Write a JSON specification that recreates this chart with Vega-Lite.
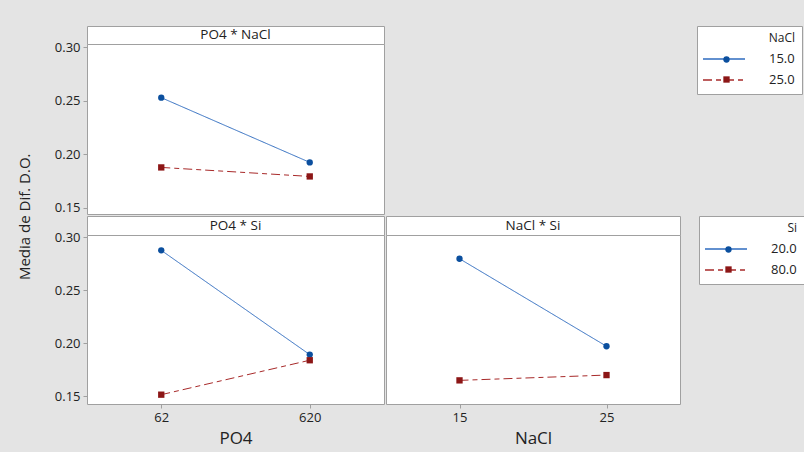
{
  "$schema": "https://vega.github.io/schema/vega-lite/v6.json",
  "background": "#e4e4e4",
  "padding": {"left": 17, "top": 25, "right": 5, "bottom": 5},
  "datasets": {
    "means": [
      {"panel": "PO4 * NaCl", "x_level": "62", "trace": "15.0", "mean": 0.2528},
      {"panel": "PO4 * NaCl", "x_level": "620", "trace": "15.0", "mean": 0.1925},
      {"panel": "PO4 * NaCl", "x_level": "62", "trace": "25.0", "mean": 0.1878},
      {"panel": "PO4 * NaCl", "x_level": "620", "trace": "25.0", "mean": 0.1794},
      {"panel": "PO4 * Si", "x_level": "62", "trace": "20.0", "mean": 0.2877},
      {"panel": "PO4 * Si", "x_level": "620", "trace": "20.0", "mean": 0.1893},
      {"panel": "PO4 * Si", "x_level": "62", "trace": "80.0", "mean": 0.1515},
      {"panel": "PO4 * Si", "x_level": "620", "trace": "80.0", "mean": 0.184},
      {"panel": "NaCl * Si", "x_level": "15", "trace": "20.0", "mean": 0.2798},
      {"panel": "NaCl * Si", "x_level": "25", "trace": "20.0", "mean": 0.1972},
      {"panel": "NaCl * Si", "x_level": "15", "trace": "80.0", "mean": 0.165},
      {"panel": "NaCl * Si", "x_level": "25", "trace": "80.0", "mean": 0.17}
    ]
  },
  "title": {
    "text": "Media de Dif. D.O.",
    "orient": "left",
    "anchor": "middle",
    "fontSize": 15,
    "fontWeight": "normal",
    "color": "#222222",
    "offset": 21,
    "dx": 19
  },
  "config": {
    "font": "Open Sans",
    "concat": {"spacing": -2},
    "view": {"stroke": "#a0a0a0", "fill": "white", "strokeWidth": 1},
    "axis": {
      "labelFontSize": 13,
      "labelColor": "#222222",
      "tickColor": "#a0a0a0",
      "tickSize": 4,
      "labelPadding": 3,
      "domain": false,
      "grid": false,
      "titleFontSize": 17,
      "titleFontWeight": "normal",
      "titleColor": "#222222"
    },
    "legend": {
      "orient": "none",
      "direction": "vertical",
      "titleAnchor": "end",
      "titleFontSize": 12,
      "titleFontWeight": "normal",
      "titleColor": "#222222",
      "titlePadding": 6,
      "labelFontSize": 13,
      "labelColor": "#222222",
      "rowPadding": 6,
      "padding": 7
    }
  },
  "resolve": {"scale": {"color": "independent", "strokeDash": "independent", "fill": "independent", "shape": "independent"}},
  "vconcat": [
    {
      "spacing": 0,
      "bounds": "flush",
      "resolve": {"scale": {"color": "independent", "strokeDash": "independent", "fill": "independent", "shape": "independent"}},
      "vconcat": [
        {
          "width": 297,
          "height": 18,
          "view": {"stroke": "#a0a0a0", "fill": "white"},
          "data": {"values": [{"label": "PO4 * NaCl"}]},
          "mark": {"type": "text", "fontSize": 13.5, "color": "#222222", "baseline": "middle"},
          "encoding": {"text": {"field": "label"}}
        },
        {
          "width": 297,
          "height": 170,
          "data": {"name": "means"},
          "transform": [{"filter": "datum.panel === 'PO4 * NaCl'"}],
          "encoding": {
            "x": {"field": "x_level", "type": "ordinal", "scale": {"type": "point", "padding": 0.5, "domain": ["62", "620"]}, "axis": null},
            "y": {"field": "mean", "type": "quantitative", "scale": {"domain": [0.1444, 0.3028], "nice": false, "zero": false}, "axis": {"values": [0.15, 0.2, 0.25, 0.3], "format": ".2f", "title": null}}
          },
          "layer": [
            {
              "mark": {"type": "line", "strokeWidth": 1},
              "encoding": {
                "color": {
                  "field": "trace", "type": "nominal",
                  "scale": {"domain": ["15.0", "25.0"], "range": ["#2f6cc0", "#a82a2a"]},
                  "legend": {
                    "title": "NaCl", "legendX": 610, "legendY": -18,
                    "symbolType": "M-3,0H3", "symbolSize": 196, "symbolStrokeWidth": 1.5,
                    "symbolOffset": 12, "labelOffset": 37,
                    "strokeColor": "#a0a0a0", "fillColor": "white"
                  }
                },
                "strokeDash": {
                  "field": "trace", "type": "nominal",
                  "scale": {"domain": ["15.0", "25.0"], "range": [[1, 0], [9, 4, 5, 4]]},
                  "legend": {"title": "NaCl"}
                }
              }
            },
            {
              "mark": {"type": "point", "filled": true, "opacity": 1, "size": 40},
              "encoding": {
                "fill": {
                  "field": "trace", "type": "nominal",
                  "scale": {"range": ["#0b4f9e", "#8c1616"]},
                  "legend": {
                    "title": "NaCl", "legendX": 626, "legendY": -16,
                    "symbolSize": 40, "titleOpacity": 0, "labelOpacity": 0,
                    "strokeColor": "rgba(0,0,0,0)", "fillColor": "rgba(0,0,0,0)"
                  }
                },
                "shape": {
                  "field": "trace", "type": "nominal",
                  "scale": {"range": ["circle", "square"]},
                  "legend": {"title": "NaCl"}
                }
              }
            }
          ]
        }
      ]
    },
    {
      "spacing": 0,
      "resolve": {"scale": {"color": "independent", "strokeDash": "independent", "fill": "independent", "shape": "independent"}},
      "hconcat": [
        {
          "spacing": 0,
          "bounds": "flush",
          "resolve": {"scale": {"color": "independent", "strokeDash": "independent", "fill": "independent", "shape": "independent"}},
          "vconcat": [
            {
              "width": 297,
              "height": 19,
              "view": {"stroke": "#a0a0a0", "fill": "white"},
              "data": {"values": [{"label": "PO4 * Si"}]},
              "mark": {"type": "text", "fontSize": 13.5, "color": "#222222", "baseline": "middle"},
              "encoding": {"text": {"field": "label"}}
            },
            {
              "width": 297,
              "height": 169,
              "data": {"name": "means"},
              "transform": [{"filter": "datum.panel === 'PO4 * Si'"}],
              "encoding": {
                "x": {"field": "x_level", "type": "ordinal", "scale": {"type": "point", "padding": 0.5, "domain": ["62", "620"]}, "axis": {"title": "PO4", "labelAngle": 0, "titlePadding": 6}},
                "y": {"field": "mean", "type": "quantitative", "scale": {"domain": [0.1427, 0.3022], "nice": false, "zero": false}, "axis": {"values": [0.15, 0.2, 0.25, 0.3], "format": ".2f", "title": null}}
              },
              "layer": [
                {
                  "mark": {"type": "line", "strokeWidth": 1},
                  "encoding": {
                    "color": {"field": "trace", "type": "nominal", "scale": {"domain": ["20.0", "80.0"], "range": ["#2f6cc0", "#a82a2a"]}, "legend": null},
                    "strokeDash": {"field": "trace", "type": "nominal", "scale": {"domain": ["20.0", "80.0"], "range": [[1, 0], [9, 4, 5, 4]]}, "legend": null}
                  }
                },
                {
                  "mark": {"type": "point", "filled": true, "opacity": 1, "size": 40},
                  "encoding": {
                    "fill": {"field": "trace", "type": "nominal", "scale": {"range": ["#0b4f9e", "#8c1616"]}, "legend": null},
                    "shape": {"field": "trace", "type": "nominal", "scale": {"range": ["circle", "square"]}, "legend": null}
                  }
                }
              ]
            }
          ]
        },
        {
          "spacing": 0,
          "bounds": "flush",
          "resolve": {"scale": {"color": "independent", "strokeDash": "independent", "fill": "independent", "shape": "independent"}},
          "vconcat": [
            {
              "width": 294,
              "height": 19,
              "view": {"stroke": "#a0a0a0", "fill": "white"},
              "data": {"values": [{"label": "NaCl * Si"}]},
              "mark": {"type": "text", "fontSize": 13.5, "color": "#222222", "baseline": "middle"},
              "encoding": {"text": {"field": "label"}}
            },
            {
              "width": 294,
              "height": 169,
              "data": {"name": "means"},
              "transform": [{"filter": "datum.panel === 'NaCl * Si'"}],
              "encoding": {
                "x": {"field": "x_level", "type": "ordinal", "scale": {"type": "point", "padding": 0.5, "domain": ["15", "25"]}, "axis": {"title": "NaCl", "labelAngle": 0, "titlePadding": 6}},
                "y": {"field": "mean", "type": "quantitative", "scale": {"domain": [0.1427, 0.3022], "nice": false, "zero": false}, "axis": null}
              },
              "layer": [
                {
                  "mark": {"type": "line", "strokeWidth": 1},
                  "encoding": {
                    "color": {
                      "field": "trace", "type": "nominal",
                      "scale": {"domain": ["20.0", "80.0"], "range": ["#2f6cc0", "#a82a2a"]},
                      "legend": {
                        "title": "Si", "legendX": 313, "legendY": -19,
                        "symbolType": "M-3,0H3", "symbolSize": 196, "symbolStrokeWidth": 1.5,
                        "symbolOffset": 12, "labelOffset": 37,
                        "strokeColor": "#a0a0a0", "fillColor": "white"
                      }
                    },
                    "strokeDash": {
                      "field": "trace", "type": "nominal",
                      "scale": {"domain": ["20.0", "80.0"], "range": [[1, 0], [9, 4, 5, 4]]},
                      "legend": {"title": "Si"}
                    }
                  }
                },
                {
                  "mark": {"type": "point", "filled": true, "opacity": 1, "size": 40},
                  "encoding": {
                    "fill": {
                      "field": "trace", "type": "nominal",
                      "scale": {"range": ["#0b4f9e", "#8c1616"]},
                      "legend": {
                        "title": "Si", "legendX": 329, "legendY": -17,
                        "symbolSize": 40, "titleOpacity": 0, "labelOpacity": 0,
                        "strokeColor": "rgba(0,0,0,0)", "fillColor": "rgba(0,0,0,0)"
                      }
                    },
                    "shape": {
                      "field": "trace", "type": "nominal",
                      "scale": {"range": ["circle", "square"]},
                      "legend": {"title": "Si"}
                    }
                  }
                }
              ]
            }
          ]
        }
      ]
    }
  ]
}
